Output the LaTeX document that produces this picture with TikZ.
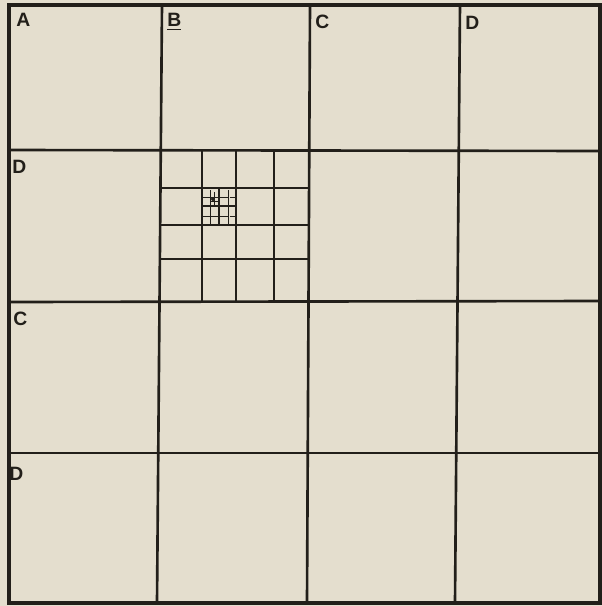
\documentclass[tikz,border=0pt]{standalone}
\usepackage{fontspec}
\setmainfont{Liberation Sans}
\definecolor{paper}{HTML}{E4DECE}
\definecolor{ink}{HTML}{221F1A}
\tikzset{
  gridline/.style={draw=ink, line width=1.5pt, line cap=round},
  subline/.style={draw=ink, line width=0.9pt},
  fineline/.style={draw=ink, line width=0.5pt},
  celllabel/.style={font=\fontsize{11}{11}\selectfont\bfseries, text=ink, anchor=north west, inner sep=0pt},
}

\begin{document}
\begin{tikzpicture}[x=0.02cm, y=-0.02cm]
  \fill[paper] (0,0) rectangle (602,606);
  \useasboundingbox (0,0) rectangle (602,606);
  % main grid
  \foreach \xt/\xb in {162/157, 310/307, 460/455}
    \draw[gridline] (\xt,5) -- (\xb,603);
  \foreach \yl/\yr in {150/151, 302/301, 453/453}
    \draw[gridline] (9,\yl) -- (600,\yr);
  \draw[gridline, line width=1.9pt] (9,5) rectangle (600,603);
  % first subdivision
  \foreach \x in {202, 236, 274}
    \draw[subline] (\x,151) -- (\x,302);
  \foreach \y in {188, 225, 259}
    \draw[subline] (161,\y) -- (309,\y);
  % second subdivision
  \draw[subline] (219,188) -- (219,225);
  \draw[subline] (202,206) -- (236,206);
  \foreach \x in {210, 228}
    \draw[fineline] (\x,190) -- (\x,225);
  \foreach \y in {197, 216}
    \draw[fineline] (202,\y) -- (228,\y);
  \draw[fineline] (230,197) -- (235,197);
  \draw[fineline] (230,216) -- (235,216);
  % third subdivision
  \draw[fineline] (214,192) -- (214,205);
  \draw[fineline] (210,201) -- (219,201);
  \fill[ink] (213,199) circle (2);
  % labels
  \node[celllabel] (lA)  at (16,13)  {A};
  \node[celllabel] (lB)  at (167,13) {\underline{B}};
  \node[celllabel] (lC)  at (315,15) {C};
  \node[celllabel] (lD)  at (465,16) {D};
  \node[celllabel] (lD2) at (12,160) {D};
  \node[celllabel] (lC3) at (13,312) {C};
  \node[celllabel] (lD4) at (9,467)  {D};
\end{tikzpicture}
\end{document}
